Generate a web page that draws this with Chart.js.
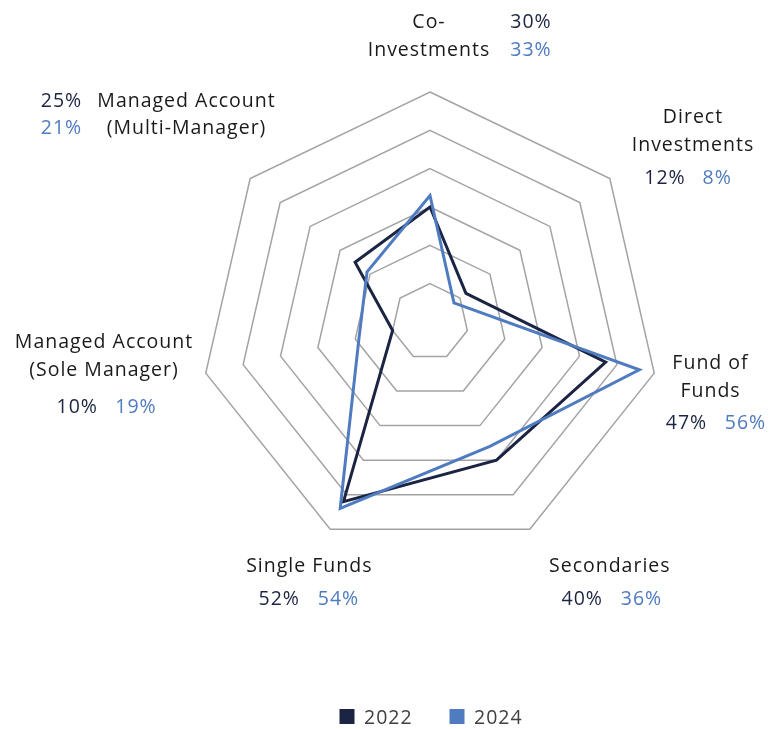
<!DOCTYPE html>
<html lang="en">
<head>
    <meta charset="UTF-8">
    <title>Radar</title>
    <script src="https://cdn.jsdelivr.net/npm/chart.js"></script>
    <style>
        html, body { margin: 0; padding: 0; background: #fff; }
        .box { width: 771px; height: 729px; }
    </style>
</head>
<body>
    <div class="box"><canvas id="myChart" width="771" height="729"></canvas></div>

<script>
    // categories, each one split in the lines shown next to the chart
    const categorias = [
        ['Co-', 'Investments'],
        ['Direct', 'Investments'],
        ['Fund of', 'Funds'],
        ['Secondaries'],
        ['Single Funds'],
        ['Managed Account', '(Sole Manager)'],
        ['Managed Account', '(Multi-Manager)']
    ];
    const anos = ['2022', '2024'];
    const valores2022 = [30, 12, 47, 40, 52, 10, 25];
    const valores2024 = [33, 8, 56, 36, 54, 19, 21];
    const escala = [0, 10, 20, 30, 40, 50, 60];

    const corEscuro = '#1b2543';
    const corAzul = '#4f7bc1';
    const fonte = '"Open Sans", "Noto Sans", sans-serif';

    // where each label block sits: name centre x, first baseline, then the two % spots
    const posRotulos = [
        { x: 428.5, y: 28,    p1: [530.5, 28],    p2: [530.5, 55.5] },
        { x: 692.5, y: 123.3, p1: [664.5, 184],   p2: [716.7, 184] },
        { x: 710,   y: 369,   p1: [686, 429.3],   p2: [745, 429.3] },
        { x: 609.3, y: 572.3, p1: [581.7, 605],   p2: [641, 605] },
        { x: 308.8, y: 572.3, p1: [278.7, 605],   p2: [338, 605] },
        { x: 103.5, y: 348.3, p1: [76.7, 413.3],  p2: [135.5, 413.3] },
        { x: 186,   y: 106.7, p1: [61, 106.7],    p2: [61, 134] }
    ];
    const alturaLinha = 27.6;

    function texto(ctx, t, x, y) {
        // letterSpacing leaves a trailing gap, so nudge back half of it
        ctx.fillText(t, x + 0.5, y);
    }

    const rotulos = {
        id: 'rotulos',
        afterDraw(chart) {
            const ctx = chart.ctx;
            ctx.save();
            ctx.font = '19.5px ' + fonte;
            ctx.letterSpacing = '1px';
            ctx.textAlign = 'center';
            ctx.textBaseline = 'alphabetic';

            for (let i = 0; i < categorias.length; i++) {
                const pos = posRotulos[i];
                ctx.fillStyle = '#1a1a1a';
                categorias[i].forEach((linha, j) => {
                    texto(ctx, linha, pos.x, pos.y + j * alturaLinha);
                });
                ctx.fillStyle = corEscuro;
                texto(ctx, chart.data.datasets[0].data[i] + '%', pos.p1[0], pos.p1[1]);
                ctx.fillStyle = corAzul;
                texto(ctx, chart.data.datasets[1].data[i] + '%', pos.p2[0], pos.p2[1]);
            }

            // legend
            const legenda = [[339.5, corEscuro], [449.5, corAzul]];
            ctx.textAlign = 'left';
            chart.data.datasets.forEach((ds, k) => {
                const [lx, cor] = legenda[k];
                ctx.fillStyle = cor;
                ctx.fillRect(lx, 709, 15, 15);
                ctx.fillStyle = '#404040';
                ctx.fillText(ds.label, lx + 24.5, 724);
            });
            ctx.restore();
        }
    };

    const ctx1 = document.getElementById('myChart');

    new Chart(ctx1, {
        type: 'radar',
        data: {
            labels: categorias,
            datasets: [{
                label: anos[0],
                data: valores2022,
                borderColor: corEscuro,
                backgroundColor: 'transparent',
                borderWidth: 3,
                pointRadius: 0,
                fill: false,
                order: 2
            },
            {
                label: anos[1],
                data: valores2024,
                borderColor: corAzul,
                backgroundColor: 'transparent',
                borderWidth: 3,
                pointRadius: 0,
                fill: false,
                order: 1
            }]
        },
        options: {
            responsive: false,
            animation: false,
            layout: {
                padding: { left: 200, right: 111, top: 92, bottom: 177 }
            },
            plugins: {
                legend: { display: false },
                tooltip: { enabled: false }
            },
            elements: { line: { tension: 0, borderJoinStyle: 'miter' } },
            scales: {
                r: {
                    min: escala[0],
                    max: escala[escala.length - 1],
                    ticks: { stepSize: escala[1] - escala[0], display: false },
                    pointLabels: { display: false },
                    angleLines: { display: false },
                    grid: { color: '#a3a3a3', lineWidth: 1.5 }
                }
            }
        },
        plugins: [rotulos]
    });
</script>
</body>
</html>
